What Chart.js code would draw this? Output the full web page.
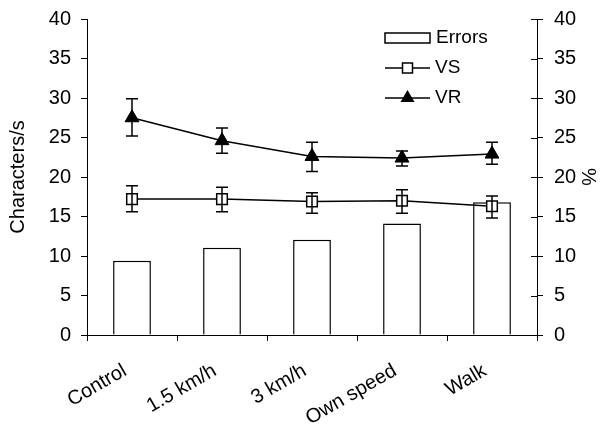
<!DOCTYPE html>
<html>
<head>
<meta charset="utf-8">
<script src="https://cdn.jsdelivr.net/npm/chart.js@4"></script>
<style>
  body { margin: 0; background: #fff; }
</style>
</head>
<body>
<canvas id="c" width="600" height="427"></canvas>
<script>
'use strict';

/* ─── Data ─── */
const categories = ['Control', '1.5 km/h', '3 km/h', 'Own speed', 'Walk'];
const errors   = [9.4, 11.05, 12.05, 14.1, 16.8];   // % (right axis)
const vsMean   = [17.2, 17.2, 16.9, 17.0, 16.3];    // characters/s
const vsLow    = [15.6, 15.6, 15.4, 15.4, 14.8];
const vsHigh   = [18.9, 18.7, 18.0, 18.4, 17.6];
const vrMean   = [27.5, 24.6, 22.6, 22.4, 22.9];
const vrLow    = [25.2, 23.0, 20.7, 21.4, 21.6];
const vrHigh   = [29.9, 26.2, 24.4, 23.3, 24.4];
const axisTicks = [0, 5, 10, 15, 20, 25, 30, 35, 40];

const FAMILY = 'Liberation Sans, Arial, sans-serif';
const FONT = { family: FAMILY, size: 20 };

/* ─── Error bars drawn through the y scale ─── */
const errorBars = {
  id: 'errorBars',
  afterDatasetsDraw(chart) {
    const ctx = chart.ctx;
    const x = chart.scales.x, y = chart.scales.y;
    const sets = [[vsLow, vsHigh], [vrLow, vrHigh]];
    ctx.save();
    ctx.strokeStyle = '#000';
    ctx.lineWidth = 1.5;
    sets.forEach(([lo, hi]) => {
      lo.forEach((v, i) => {
        const px = x.getPixelForValue(i);
        const y1 = y.getPixelForValue(v), y2 = y.getPixelForValue(hi[i]);
        ctx.beginPath();
        ctx.moveTo(px, y1); ctx.lineTo(px, y2);
        ctx.moveTo(px - 6, y1); ctx.lineTo(px + 6, y1);
        ctx.moveTo(px - 6, y2); ctx.lineTo(px + 6, y2);
        ctx.stroke();
      });
    });
    ctx.restore();
  },
  afterDraw(chart) {
    const ctx = chart.ctx;
    const y2 = chart.scales.y2;
    const area = chart.chartArea;
    ctx.save();
    ctx.strokeStyle = '#000';
    ctx.lineWidth = 1;
    // inner half of the right axis ticks
    axisTicks.forEach(v => {
      const py = Math.round(y2.getPixelForValue(v)) + 0.5;
      ctx.beginPath();
      ctx.moveTo(area.right - 6, py); ctx.lineTo(area.right, py);
      ctx.stroke();
    });

    /* ─── Legend ─── */
    const lx = 385, lw = 45;
    ctx.font = `19px ${FAMILY}`;
    ctx.fillStyle = '#000';
    ctx.textBaseline = 'middle';
    ctx.lineWidth = 1.5;
    ctx.strokeRect(lx, 33, lw, 10);
    ctx.fillText(chart.data.datasets[0].label, lx + lw + 6, 38);

    ctx.beginPath();
    ctx.moveTo(lx, 68); ctx.lineTo(lx + lw, 68);
    ctx.stroke();
    ctx.fillStyle = '#fff';
    ctx.fillRect(lx + lw / 2 - 5, 63, 10, 10);
    ctx.strokeRect(lx + lw / 2 - 5, 63, 10, 10);
    ctx.fillStyle = '#000';
    ctx.fillText(chart.data.datasets[1].label, lx + lw + 5, 68);

    ctx.beginPath();
    ctx.moveTo(lx, 98); ctx.lineTo(lx + lw, 98);
    ctx.stroke();
    ctx.beginPath();
    ctx.moveTo(lx + lw / 2, 90); ctx.lineTo(lx + lw / 2 + 7, 102); ctx.lineTo(lx + lw / 2 - 7, 102);
    ctx.closePath();
    ctx.fill();
    ctx.fillText(chart.data.datasets[2].label, lx + lw + 5, 98);
    ctx.restore();
  }
};

const tickGrid = { display: true, drawOnChartArea: false, color: '#000', tickLength: 6, lineWidth: 1 };
const border = { display: true, color: '#000', width: 1 };

// fixed width, and no extra room asked for the half-height of the end labels
const fitY = w => s => { s.width = w; s.paddingTop = 0; s.paddingBottom = 0; };

new Chart(document.getElementById('c'), {
  data: {
    labels: categories,
    datasets: [
      {
        type: 'bar', label: 'Errors', data: errors, yAxisID: 'y2', order: 3,
        backgroundColor: '#fff', borderColor: '#000', borderWidth: 1.5,
        barPercentage: 0.42, categoryPercentage: 1
      },
      {
        type: 'line', label: 'VS', data: vsMean, yAxisID: 'y', order: 2,
        borderColor: '#000', borderWidth: 1.5, tension: 0,
        pointStyle: 'rect', pointRadius: 7.5, pointBackgroundColor: '#fff',
        pointBorderColor: '#000', pointBorderWidth: 1.5
      },
      {
        type: 'line', label: 'VR', data: vrMean, yAxisID: 'y', order: 1,
        borderColor: '#000', borderWidth: 1.5, tension: 0,
        pointStyle: 'triangle', pointRadius: 8, pointBackgroundColor: '#000',
        pointBorderColor: '#000', pointBorderWidth: 1
      }
    ]
  },
  options: {
    responsive: false,
    animation: false,
    layout: { padding: { top: 19, left: 0, right: 0, bottom: 0 } },
    plugins: { legend: { display: false }, tooltip: { enabled: false } },
    scales: {
      x: {
        grid: { ...tickGrid, offset: true },
        border,
        ticks: { color: '#000', font: FONT, minRotation: 30, maxRotation: 30, padding: 18, labelOffset: -7 },
        afterFit: s => { s.height = 92; s.paddingLeft = 0; s.paddingRight = 0; }
      },
      y: {
        position: 'left', min: 0, max: 40,
        afterBuildTicks: s => { s.ticks = axisTicks.map(v => ({ value: v })); },
        grid: tickGrid, border,
        ticks: { color: '#000', font: FONT, padding: 10 },
        title: { display: true, text: 'Characters/s', color: '#000', font: FONT, padding: { top: 6, bottom: 0 } },
        afterFit: fitY(87)
      },
      y2: {
        position: 'right', min: 0, max: 40,
        afterBuildTicks: s => { s.ticks = axisTicks.map(v => ({ value: v })); },
        grid: tickGrid, border,
        ticks: { color: '#000', font: FONT, padding: 11 },
        title: { display: true, text: '%', color: '#000', font: FONT, padding: { top: 0, bottom: 0 } },
        afterFit: fitY(63)
      }
    }
  },
  plugins: [errorBars]
});
</script>
</body>
</html>
